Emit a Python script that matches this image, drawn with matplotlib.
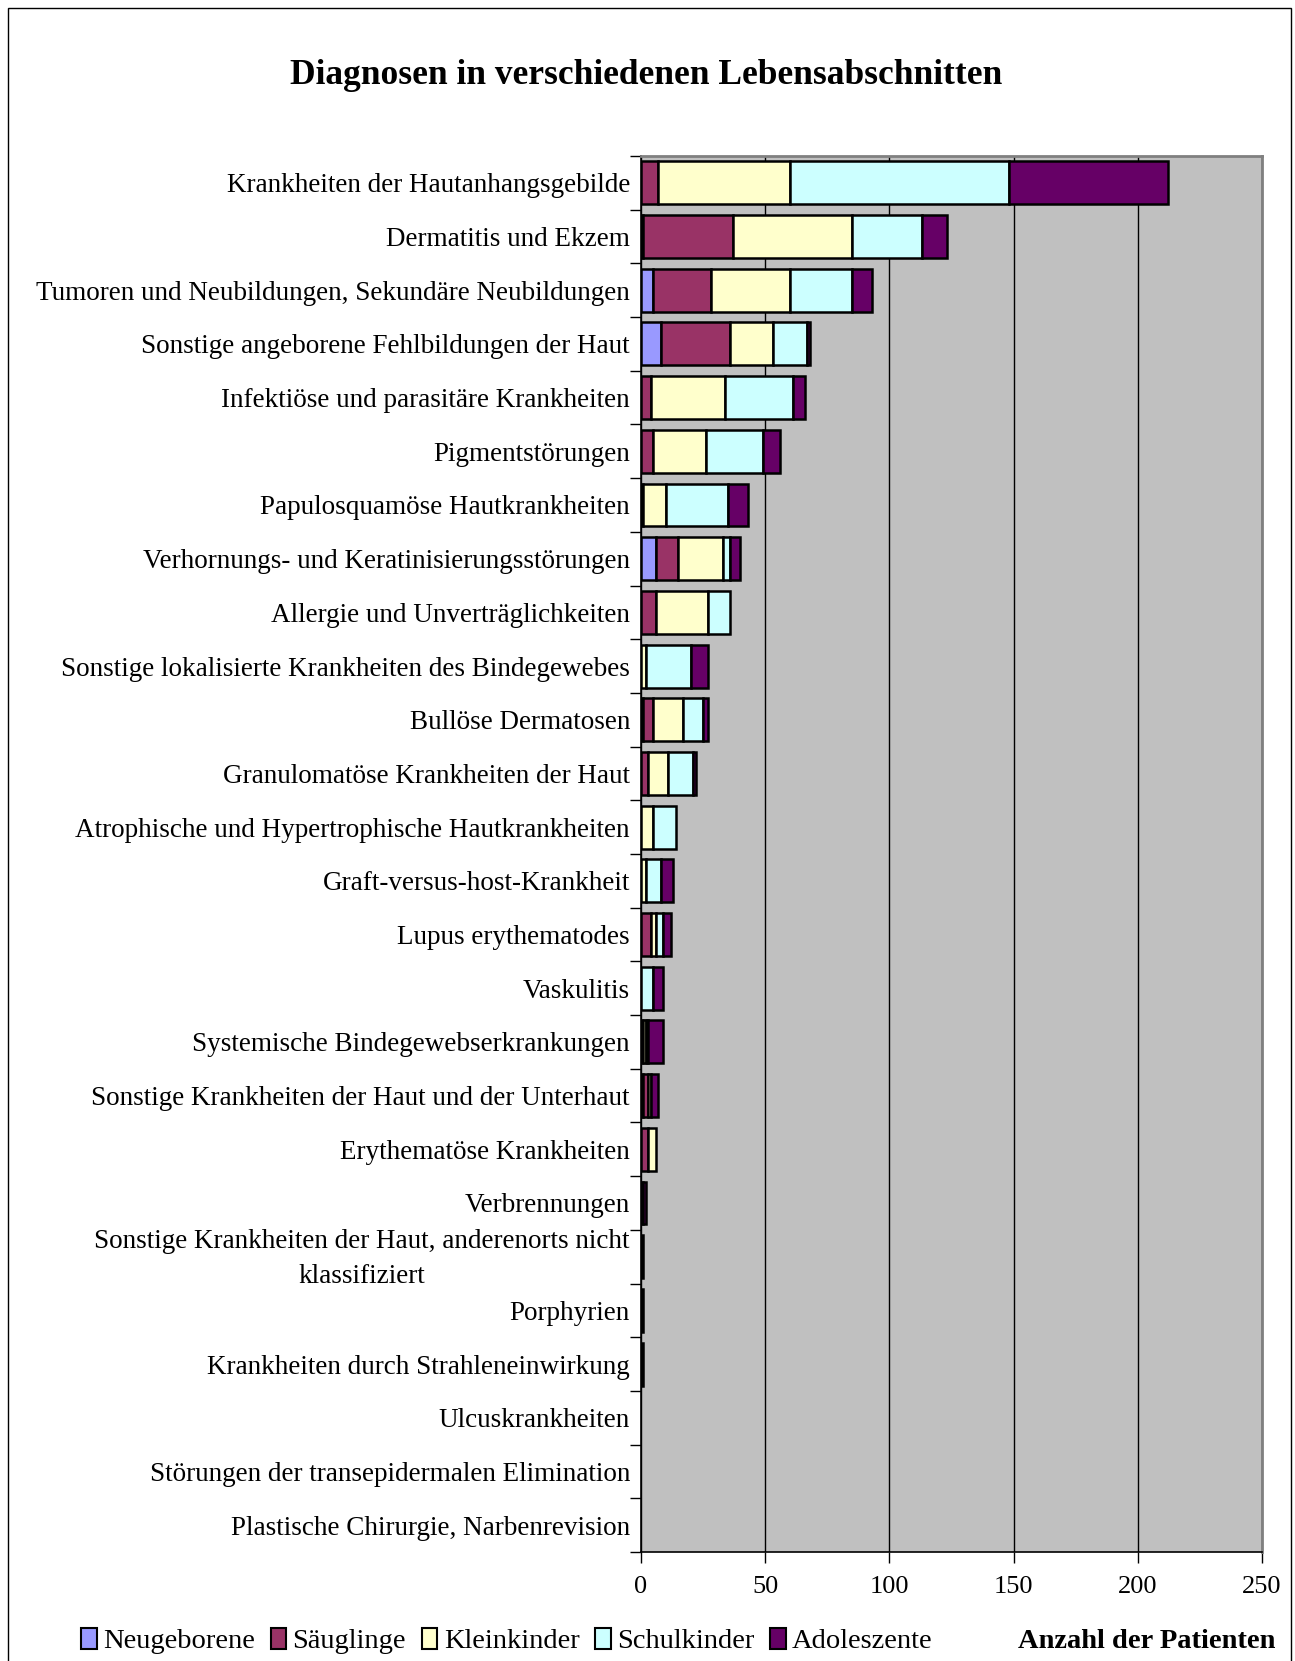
import numpy as np
import matplotlib
matplotlib.use("Agg")
import matplotlib.pyplot as plt
from matplotlib.patches import Patch, Rectangle
from matplotlib.transforms import offset_copy

plt.rcParams['font.family'] = ['Liberation Serif', 'DejaVu Serif']

categories = [
    "Krankheiten der Hautanhangsgebilde",
    "Dermatitis und Ekzem",
    "Tumoren und Neubildungen, Sekundäre Neubildungen",
    "Sonstige angeborene Fehlbildungen der Haut",
    "Infektiöse und parasitäre Krankheiten",
    "Pigmentstörungen",
    "Papulosquamöse Hautkrankheiten",
    "Verhornungs- und Keratinisierungsstörungen",
    "Allergie und Unverträglichkeiten",
    "Sonstige lokalisierte Krankheiten des Bindegewebes",
    "Bullöse Dermatosen",
    "Granulomatöse Krankheiten der Haut",
    "Atrophische und Hypertrophische Hautkrankheiten",
    "Graft-versus-host-Krankheit",
    "Lupus erythematodes",
    "Vaskulitis",
    "Systemische Bindegewebserkrankungen",
    "Sonstige Krankheiten der Haut und der Unterhaut",
    "Erythematöse Krankheiten",
    "Verbrennungen",
    "Sonstige Krankheiten der Haut, anderenorts nicht\nklassifiziert",
    "Porphyrien",
    "Krankheiten durch Strahleneinwirkung",
    "Ulcuskrankheiten",
    "Störungen der transepidermalen Elimination",
    "Plastische Chirurgie, Narbenrevision",
]

neugeborene = [0, 1, 5, 8, 0, 0, 0, 6, 0, 0, 1, 0, 0, 0, 0, 0, 0, 1, 0, 0, 0, 0, 0, 0, 0, 0]
saeuglinge  = [7, 36, 23, 28, 4, 5, 1, 9, 6, 0, 4, 3, 0, 0, 4, 0, 1, 2, 3, 1, 1, 1, 1, 0, 0, 0]
kleinkinder = [53, 48, 32, 17, 30, 21, 9, 18, 21, 2, 12, 8, 5, 2, 2, 0, 1, 1, 3, 0, 0, 0, 0, 0, 0, 0]
schulkinder = [88, 28, 25, 14, 27, 23, 25, 3, 9, 18, 8, 10, 9, 6, 3, 5, 1, 0, 0, 0, 0, 0, 0, 0, 0, 0]
adoleszente = [64, 10, 8, 1, 5, 7, 8, 4, 0, 7, 2, 1, 0, 5, 3, 4, 6, 3, 0, 1, 0, 0, 0, 0, 0, 0]

series_names = ["Neugeborene", "Säuglinge", "Kleinkinder", "Schulkinder", "Adoleszente"]
series = [neugeborene, saeuglinge, kleinkinder, schulkinder, adoleszente]
colors = ["#9999FF", "#993366", "#FFFFCC", "#CCFFFF", "#660066"]

W, H = 1295, 1661
fig = plt.figure(figsize=(W / 100, H / 100), dpi=100)
ax = fig.add_axes([641 / W, 1 - 1552 / H, (1262 - 641) / W, (1552 - 156) / H])
ax.set_facecolor("#C0C0C0")

n = len(categories)
y = np.arange(n)
left = np.zeros(n)
for vals, col in zip(series, colors):
    vals = np.array(vals, dtype=float)
    nz = vals > 0
    # zero segments are skipped so they leave no edge line
    ax.barh(y[nz], vals[nz], left=left[nz], height=0.8, color=col, edgecolor="black",
            linewidth=1.8, zorder=3)
    left += vals

ax.set_xlim(0, 250)
ax.set_ylim(n - 0.5, -0.5)
ax.set_xticks([0, 50, 100, 150, 200, 250])
ax.xaxis.grid(True, color="black", linewidth=1.0, zorder=1)
ax.set_axisbelow(True)

# the two-line label is drawn separately so it can be placed a bit more freely
tick_labels = ["" if "\n" in c else c for c in categories]
ax.set_yticks(y)
ax.set_yticklabels(tick_labels, fontsize=19.5)
trans = offset_copy(ax.get_yaxis_transform(), fig=fig, x=-8, y=-1.7, units="points")
for i, c in enumerate(categories):
    if "\n" in c:
        ax.text(0, i, c, transform=trans, ha="right", va="center", fontsize=19.5,
                multialignment="center", linespacing=1.55)

ax.set_yticks(np.arange(-0.5, n + 0.5, 1), minor=True)
ax.tick_params(axis="y", which="major", length=0, pad=8)
ax.tick_params(axis="y", which="minor", length=8, width=1, direction="out", color="black")
ax.tick_params(axis="x", which="major", length=8, width=1, direction="out", labelsize=19, pad=9)

for s in ["top", "right"]:
    ax.spines[s].set_color("#808080")
    ax.spines[s].set_linewidth(2)
ax.spines["left"].set_color("black")
ax.spines["bottom"].set_color("black")
ax.spines["left"].set_linewidth(1.2)
ax.spines["bottom"].set_linewidth(1.2)

fig.text(646 / W, 1 - 75 / H, "Diagnosen in verschiedenen Lebensabschnitten",
         ha="center", va="center", fontsize=25.5, fontweight="bold")

handles = [Patch(facecolor=c, edgecolor="black", linewidth=1.5) for c in colors]
fig.legend(handles, series_names, loc="center left", bbox_to_anchor=(67 / W, 1 - 1641 / H),
           ncol=5, frameon=False, fontsize=20.5, handlelength=0.55, handleheight=0.8,
           handletextpad=0.22, columnspacing=0.55, borderpad=0)

fig.text(1275 / W, 1 - 1641 / H, "Anzahl der Patienten", ha="right", va="center",
         fontsize=20.5, fontweight="bold")

fig.patches.append(Rectangle((8 / W, -0.01), (1291 - 8) / W, 1 - 8 / H + 0.01,
                             transform=fig.transFigure, fill=False,
                             edgecolor="black", linewidth=1))

fig.savefig("out.png", dpi=100)
